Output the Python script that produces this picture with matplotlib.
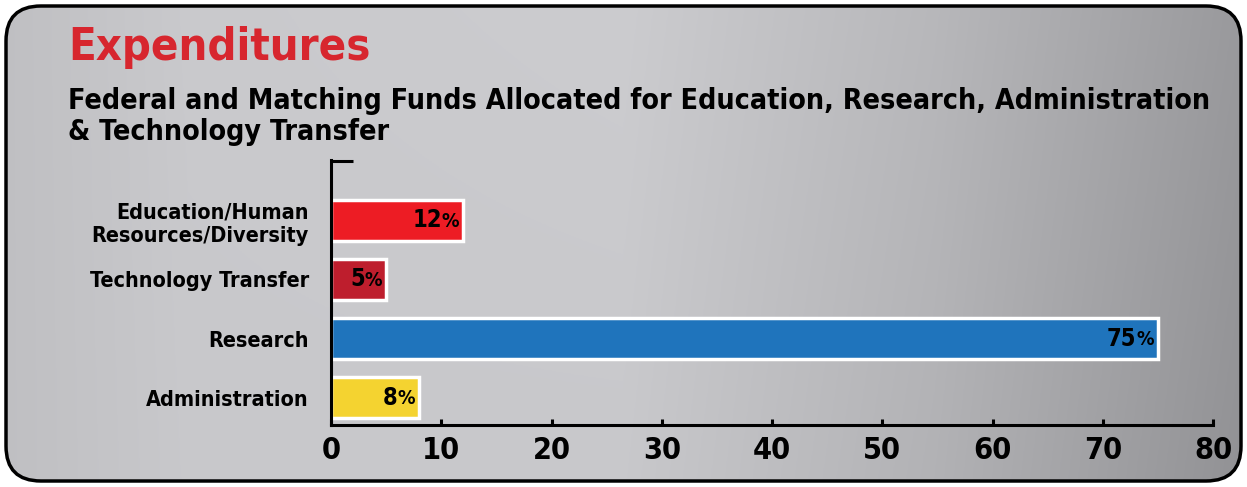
import matplotlib
matplotlib.use("Agg")
import matplotlib.pyplot as plt
import numpy as np
from matplotlib import font_manager as fm
from matplotlib.patches import FancyBboxPatch
from matplotlib.transforms import offset_copy

categories = ["Administration", "Research", "Technology Transfer", "Education/Human\nResources/Diversity"]
values = [8, 75, 5, 12]
colors = ["#f4d330", "#1f74bc", "#be1e2d", "#ed1c24"]
xticks = [0, 10, 20, 30, 40, 50, 60, 70, 80]
title = "Expenditures"
subtitle = "Federal and Matching Funds Allocated for Education, Research, Administration\n& Technology Transfer"

names = {f.name for f in fm.fontManager.ttflist}
if "Liberation Sans Narrow" in names:
    FONT = dict(family="Liberation Sans Narrow", weight="bold")
else:
    FONT = dict(family="DejaVu Sans", weight="bold", stretch="condensed")

W, H = 1247, 487
fig = plt.figure(figsize=(W / 100, H / 100), dpi=100)
fig.patch.set_facecolor("white")

# brushed-metal-like background gradient
bg = fig.add_axes([0, 0, 1, 1], zorder=-10)
xx = np.linspace(0, 1, 500)
yy = np.linspace(0, 1, 200)
X, Y = np.meshgrid(xx, yy)
base = np.interp(X, [0, 0.15, 0.5, 0.75, 1.0], [0.75, 0.79, 0.80, 0.72, 0.60])
grad = base - 0.03 * Y * X
img = np.clip(np.dstack([grad, grad, grad + 0.012]), 0, 1)
im = bg.imshow(img, extent=[0, 1, 0, 1], aspect="auto", origin="upper")
bg.set_xlim(0, 1)
bg.set_ylim(0, 1)
bg.axis("off")
clip = FancyBboxPatch((6 / W, 6 / H), (W - 12) / W, (H - 12) / H,
                      boxstyle="round,pad=0,rounding_size=0.028",
                      mutation_aspect=W / H,
                      transform=bg.transAxes, facecolor="none", edgecolor="none")
bg.add_patch(clip)
im.set_clip_path(clip)
box = FancyBboxPatch((6 / W, 6 / H), (W - 12) / W, (H - 12) / H,
                     boxstyle="round,pad=0,rounding_size=0.028",
                     mutation_aspect=W / H,
                     transform=bg.transAxes, facecolor="none",
                     edgecolor="black", linewidth=2.5, zorder=5)
bg.add_patch(box)

fig.text(68 / W, 1 - 60 / H, title, color="#d7262e", fontsize=32.5, **FONT)
fig.text(68 / W, 1 - 140 / H, subtitle, color="black", fontsize=20.5,
         linespacing=1.15, **FONT)

ax = fig.add_axes([331 / W, 1 - 425 / H, (1213 - 331) / W, (425 - 160) / H])
ax.patch.set_alpha(0)
ypos = np.arange(len(categories))
ax.barh(ypos, values, height=0.7, color=colors, edgecolor="white", linewidth=2.5, zorder=2)
ax.set_xlim(0, 80)
ax.set_ylim(-0.46, 4.02)
ax.set_xticks(xticks)
ax.set_xticklabels([str(t) for t in xticks], fontsize=22, **FONT)
ax.set_yticks(list(ypos) + [4])
ax.set_yticklabels(categories + [""], fontsize=15.5, multialignment="right", **FONT)
for s in ["top", "right"]:
    ax.spines[s].set_visible(False)
for s in ["left", "bottom"]:
    ax.spines[s].set_linewidth(2.2)
    ax.spines[s].set_color("black")
ax.tick_params(axis="y", direction="in", length=16, width=2.2, pad=16)
ax.tick_params(axis="x", direction="in", length=4.5, width=2.2, pad=8)

fig.canvas.draw()
r = fig.canvas.get_renderer()
for y, v in zip(ypos, values):
    pt = ax.text(v, y, "%", ha="right", va="center", fontsize=14, zorder=6,
                 transform=offset_copy(ax.transData, fig=fig, x=-4, y=-1, units="dots"),
                 **FONT)
    w = pt.get_window_extent(renderer=r).width
    ax.text(v, y, str(v), ha="right", va="center", fontsize=17, zorder=6,
            transform=offset_copy(ax.transData, fig=fig, x=-4 - w, y=0, units="dots"),
            **FONT)

fig.savefig("out.png", dpi=100)
